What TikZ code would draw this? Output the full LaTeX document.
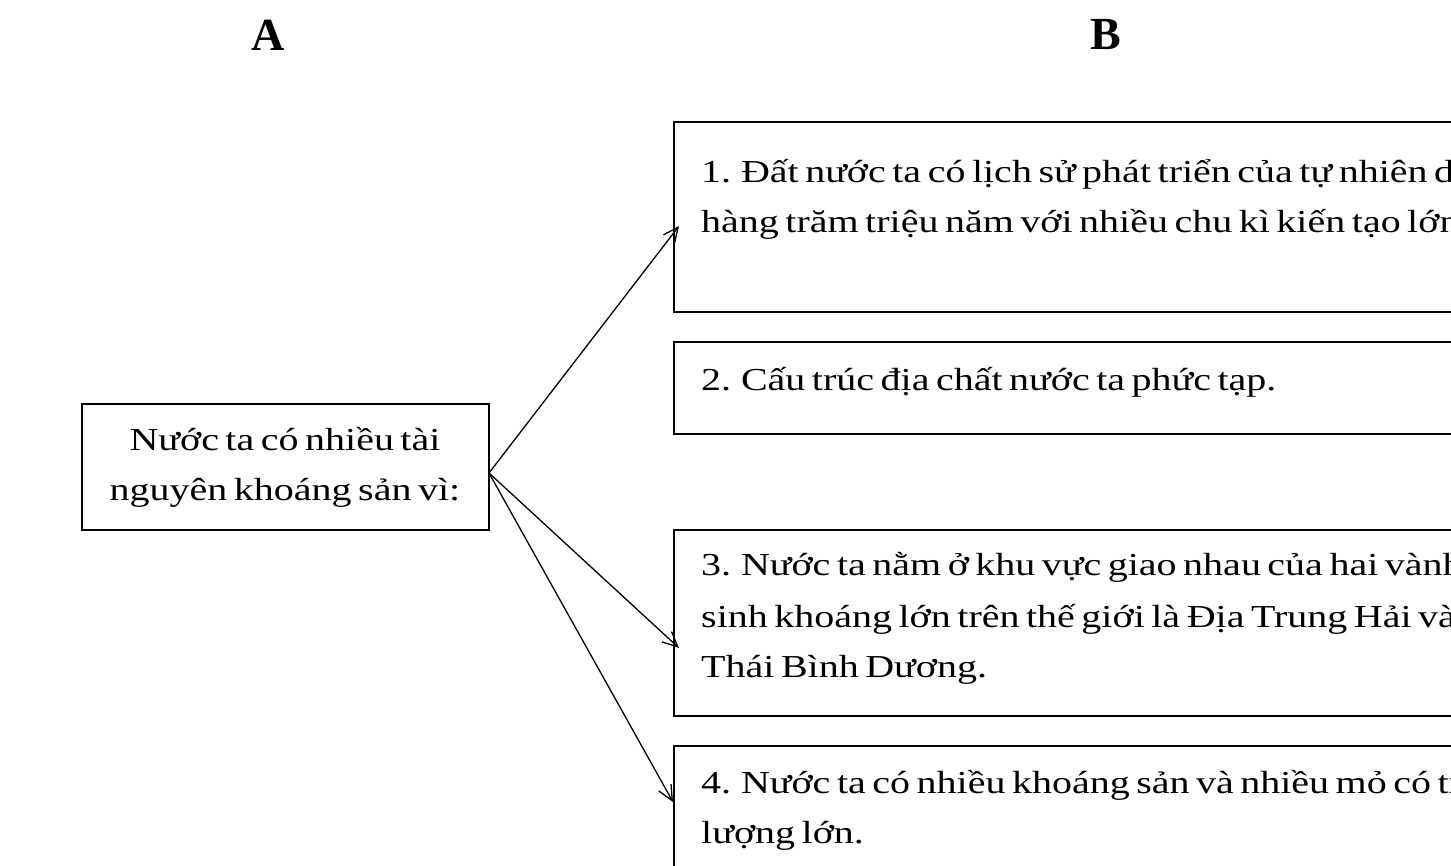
\documentclass[tikz,border=0pt]{standalone}
\usepackage{fontspec}
\setmainfont{Liberation Serif}
\newfontfamily\widefont[FakeStretch=1.25, WordSpace=0.65]{Liberation Serif}
\usetikzlibrary{arrows.meta}
\tikzset{
  hdr/.style={font=\bfseries\fontsize{46}{46}\selectfont, inner sep=0pt},
  boxs/.style={draw, line width=1.8pt, inner sep=0pt, anchor=north west},
  txt/.style={font=\widefont\fontsize{32}{50}\selectfont, inner sep=0pt, anchor=base west},
  ctxt/.style={font=\widefont\fontsize{32}{50}\selectfont, inner sep=0pt, anchor=base},
  conn/.style={line width=1.3pt, -{Straight Barb[length=15pt, width=14pt, line width=1.3pt]}}
}
\begin{document}
\begin{tikzpicture}[x=1pt,y=-1pt]
\useasboundingbox (0,0) rectangle (1451,865);
\clip (0,0) rectangle (1451,865);
\fill[white] (0,0) rectangle (1451,865);
% headers
\node[hdr] (hA) at (268,35) {A};
\node[hdr] (hB) at (1106,35) {B};
% left box
\node[boxs, minimum width=407pt, minimum height=126pt] (a) at (81,403) {};
\node[ctxt] (a1) at (285,450) {Nước ta có nhiều tài};
\node[ctxt] (a2) at (285,500) {nguyên khoáng sản vì:};
% right boxes
\node[boxs, minimum width=900pt, minimum height=190pt] (b1) at (673,121) {};
\node[txt] (b1a) at (701,182) {1. Đất nước ta có lịch sử phát triển của tự nhiên dài};
\node[txt] (b1b) at (701,232) {hàng trăm triệu năm với nhiều chu kì kiến tạo lớn.};
\node[boxs, minimum width=900pt, minimum height=92pt] (b2) at (673,341) {};
\node[txt] (b2a) at (701,390) {2. Cấu trúc địa chất nước ta phức tạp.};
\node[boxs, minimum width=900pt, minimum height=186pt] (b3) at (673,529) {};
\node[txt] (b3a) at (701,575) {3. Nước ta nằm ở khu vực giao nhau của hai vành đai};
\node[txt] (b3b) at (701,627) {sinh khoáng lớn trên thế giới là Địa Trung Hải và};
\node[txt] (b3c) at (701,677) {Thái Bình Dương.};
\node[boxs, minimum width=900pt, minimum height=200pt] (b4) at (673,745) {};
\node[txt] (b4a) at (701,793) {4. Nước ta có nhiều khoáng sản và nhiều mỏ có trữ};
\node[txt] (b4b) at (701,843) {lượng lớn.};
% connector points
\coordinate (s) at (489,473);
\coordinate (t1) at (679,226);
\coordinate (t3) at (679,648);
\coordinate (t4) at (673,802);
\draw[conn] (s) -- (t1);
\draw[conn] (s) -- (t3);
\draw[conn] (s) -- (t4);
\end{tikzpicture}
\end{document}
